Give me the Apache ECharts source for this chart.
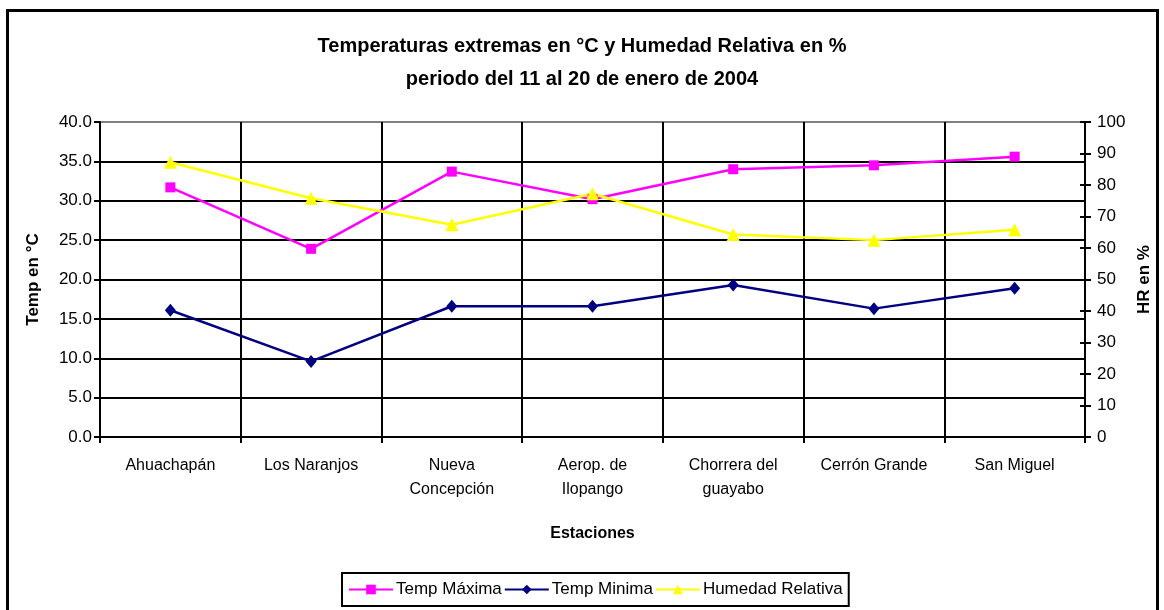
<!DOCTYPE html>
<html>
<head>
<meta charset="utf-8">
<script src="https://cdn.jsdelivr.net/npm/echarts@6/dist/echarts.min.js"></script>
<style>
html,body{margin:0;padding:0;background:#fff;}
#chart{width:1164px;height:610px;}
</style>
</head>
<body>
<div id="chart"></div>
<script>
const categories = ['Ahuachapán', 'Los Naranjos', 'Nueva\nConcepción', 'Aerop. de\nIlopango', 'Chorrera del\nguayabo', 'Cerrón Grande', 'San Miguel'];
const tempMax = [31.7, 23.9, 33.7, 30.2, 34.0, 34.5, 35.6];
const tempMin = [16.1, 9.6, 16.6, 16.6, 19.3, 16.3, 18.9];
const humedad = [87.2, 75.8, 67.4, 77.2, 64.3, 62.5, 65.8];
const seriesNames = ['Temp Máxima', 'Temp Minima', 'Humedad Relativa'];

const FONT = 'Liberation Sans, Arial, sans-serif';
const chart = echarts.init(document.getElementById('chart'));
chart.setOption({
  backgroundColor: '#fff',
  animation: false,
  textStyle: { fontFamily: FONT, color: '#000' },
  graphic: [{
    type: 'rect', z: 100,
    shape: { x: 7.5, y: 10.5, width: 1150, height: 640 },
    style: { fill: 'none', stroke: '#000', lineWidth: 3 }
  }],
  title: {
    text: 'Temperaturas extremas en °C y Humedad Relativa en %\nperiodo del 11 al 20 de enero de 2004',
    left: 'center', top: 25,
    textStyle: { fontFamily: FONT, fontSize: 20, fontWeight: 'bold', color: '#000', lineHeight: 33 }
  },
  legend: {
    data: seriesNames,
    left: 342, top: 573,
    orient: 'horizontal',
    borderColor: '#000', borderWidth: 2, borderRadius: 0,
    padding: [8, 6, 8, 6],
    itemGap: 2, itemWidth: 44, itemHeight: 12,
    textStyle: { fontFamily: FONT, fontSize: 17, color: '#000', padding: [0, 0, 0, -2] }
  },
  grid: { left: 100, right: 79, top: 122, bottom: 173, containLabel: false },
  xAxis: {
    type: 'category', data: categories, boundaryGap: true,
    name: 'Estaciones', nameLocation: 'middle', nameGap: 89,
    nameTextStyle: { fontFamily: FONT, fontSize: 16, fontWeight: 'bold', color: '#000' },
    axisLine: { lineStyle: { color: '#000', width: 2 } },
    axisTick: { show: true, length: 6, lineStyle: { color: '#000', width: 2 } },
    axisLabel: { fontFamily: FONT, fontSize: 16, color: '#000', margin: 17, lineHeight: 24, interval: 0 },
    splitLine: { show: true, lineStyle: { color: '#000', width: 2 } }
  },
  yAxis: [{
    type: 'value', min: 0, max: 40, interval: 5, position: 'left',
    name: 'Temp en °C', nameLocation: 'middle', nameGap: 58, nameRotate: 90,
    nameTextStyle: { fontFamily: FONT, fontSize: 17, fontWeight: 'bold', color: '#000' },
    axisLine: { show: true, lineStyle: { color: '#000', width: 2 } },
    axisTick: { show: true, length: 6, lineStyle: { color: '#000', width: 2 } },
    axisLabel: { fontFamily: FONT, fontSize: 17, color: '#000', margin: 8, formatter: v => v.toFixed(1) },
    splitLine: { show: true, lineStyle: { color: ['#000','#000','#000','#000','#000','#000','#000','#000','#808080'], width: 2 } }
  }, {
    type: 'value', min: 0, max: 100, interval: 10, position: 'right',
    name: 'HR en %', nameLocation: 'middle', nameGap: 50, nameRotate: 90,
    nameTextStyle: { fontFamily: FONT, fontSize: 17, fontWeight: 'bold', color: '#000' },
    axisLine: { show: true, lineStyle: { color: '#000', width: 2 } },
    axisTick: { show: true, length: 6, lineStyle: { color: '#000', width: 2 } },
    axisLabel: { fontFamily: FONT, fontSize: 17, color: '#000', margin: 12 },
    splitLine: { show: false }
  }, {
    type: 'value', min: 0, max: 100, interval: 10, position: 'right',
    axisLine: { show: false },
    axisTick: { show: true, inside: true, length: 5, lineStyle: { color: '#000', width: 2 } },
    axisLabel: { show: false },
    splitLine: { show: false }
  }],
  series: [{
    name: seriesNames[0], type: 'line', data: tempMax, yAxisIndex: 0,
    symbol: 'rect', symbolSize: 10,
    lineStyle: { color: '#ff00ff', width: 2.5 },
    itemStyle: { color: '#ff00ff' }
  }, {
    name: seriesNames[1], type: 'line', data: tempMin, yAxisIndex: 0,
    symbol: 'diamond', symbolSize: [11, 13],
    lineStyle: { color: '#000080', width: 2.5 },
    itemStyle: { color: '#000080' }
  }, {
    name: seriesNames[2], type: 'line', data: humedad, yAxisIndex: 1,
    symbol: 'triangle', symbolSize: 13,
    lineStyle: { color: '#ffff00', width: 2.5 },
    itemStyle: { color: '#ffff00' }
  }]
});
</script>
</body>
</html>
